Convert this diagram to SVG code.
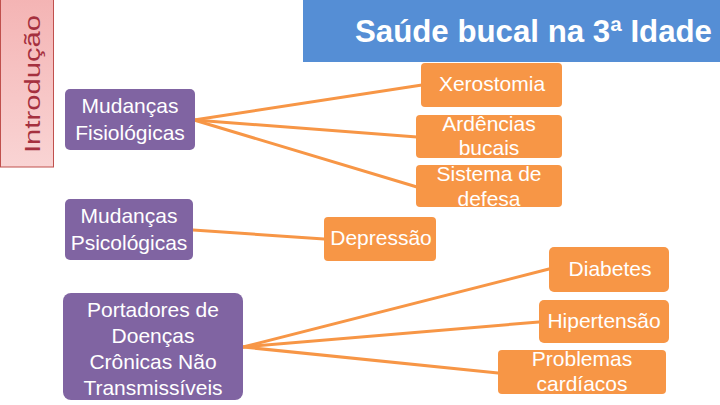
<svg xmlns="http://www.w3.org/2000/svg" width="720" height="405" viewBox="0 0 720 405">
<defs>
<linearGradient id="pink" x1="0" y1="0" x2="0" y2="1">
<stop offset="0" stop-color="#f4b4b4"/>
<stop offset="1" stop-color="#f9d4d4"/>
</linearGradient>
<style>
.p{fill:#8064a2}
.o{fill:#f79646}
.t{font-family:"Liberation Sans",Arial,sans-serif;font-size:21px;fill:#ffffff;text-anchor:middle}
.c line{stroke:#f79646;stroke-width:3;stroke-linecap:round}
</style>
</defs>
<rect width="720" height="405" fill="#ffffff"/>
<g id="intro">
<rect x="0.5" y="-1" width="53" height="168" fill="url(#pink)" stroke="#c0504d" stroke-width="1"/>
<text transform="translate(40,84) rotate(-90)" text-anchor="middle" font-family="Liberation Sans,Arial,sans-serif" font-size="22" fill="#a5303e" textLength="138" lengthAdjust="spacingAndGlyphs">Introdução</text>
</g>
<g id="title">
<rect x="303" y="0" width="417" height="62" fill="#558ed5"/>
<text x="355" y="42" font-family="Liberation Sans,Arial,sans-serif" font-size="31" font-weight="bold" fill="#ffffff" textLength="357" lengthAdjust="spacingAndGlyphs">Saúde bucal na 3ª Idade</text>
</g>
<g class="c" id="connectors">
<line x1="194" y1="120" x2="422" y2="85"/>
<line x1="194" y1="120" x2="417" y2="137"/>
<line x1="194" y1="120" x2="417" y2="187"/>
<line x1="193" y1="230" x2="324" y2="239"/>
<line x1="243" y1="347" x2="549" y2="269"/>
<line x1="243" y1="347" x2="539" y2="322"/>
<line x1="243" y1="347" x2="498" y2="373"/>
</g>
<g id="fisio">
<rect class="p" x="65" y="89" width="130" height="61" rx="5"/>
<text class="t" x="130" y="113">Mudanças</text>
<text class="t" x="130" y="140">Fisiológicas</text>
</g>
<g id="psico">
<rect class="p" x="65" y="199" width="128" height="61" rx="5"/>
<text class="t" x="129" y="223">Mudanças</text>
<text class="t" x="129" y="250">Psicológicas</text>
</g>
<g id="portadores">
<rect class="p" x="63" y="293" width="180" height="107" rx="8"/>
<text class="t" x="153" y="317">Portadores de</text>
<text class="t" x="153" y="343">Doenças</text>
<text class="t" x="153" y="369">Crônicas Não</text>
<text class="t" x="153" y="395">Transmissíveis</text>
</g>
<g id="xerostomia">
<rect class="o" x="421" y="63" width="141" height="44" rx="4"/>
<text class="t" x="492" y="91">Xerostomia</text>
</g>
<g id="ardencias">
<rect class="o" x="416" y="115" width="146" height="43" rx="4"/>
<text class="t" x="489" y="131">Ardências</text>
<text class="t" x="489" y="155">bucais</text>
</g>
<g id="sistema">
<rect class="o" x="416" y="165" width="146" height="42" rx="4"/>
<text class="t" x="489" y="181">Sistema de</text>
<text class="t" x="489" y="206">defesa</text>
</g>
<g id="depressao">
<rect class="o" x="324" y="217" width="112" height="44" rx="4"/>
<text class="t" x="381" y="245">Depressão</text>
</g>
<g id="diabetes">
<rect class="o" x="549" y="247" width="120" height="45" rx="5"/>
<text class="t" x="610" y="276">Diabetes</text>
</g>
<g id="hipertensao">
<rect class="o" x="539" y="300" width="130" height="43" rx="5"/>
<text class="t" x="604" y="328">Hipertensão</text>
</g>
<g id="problemas">
<rect class="o" x="498" y="350" width="168" height="44" rx="4"/>
<text class="t" x="582" y="366">Problemas</text>
<text class="t" x="582" y="391">cardíacos</text>
</g>
</svg>
